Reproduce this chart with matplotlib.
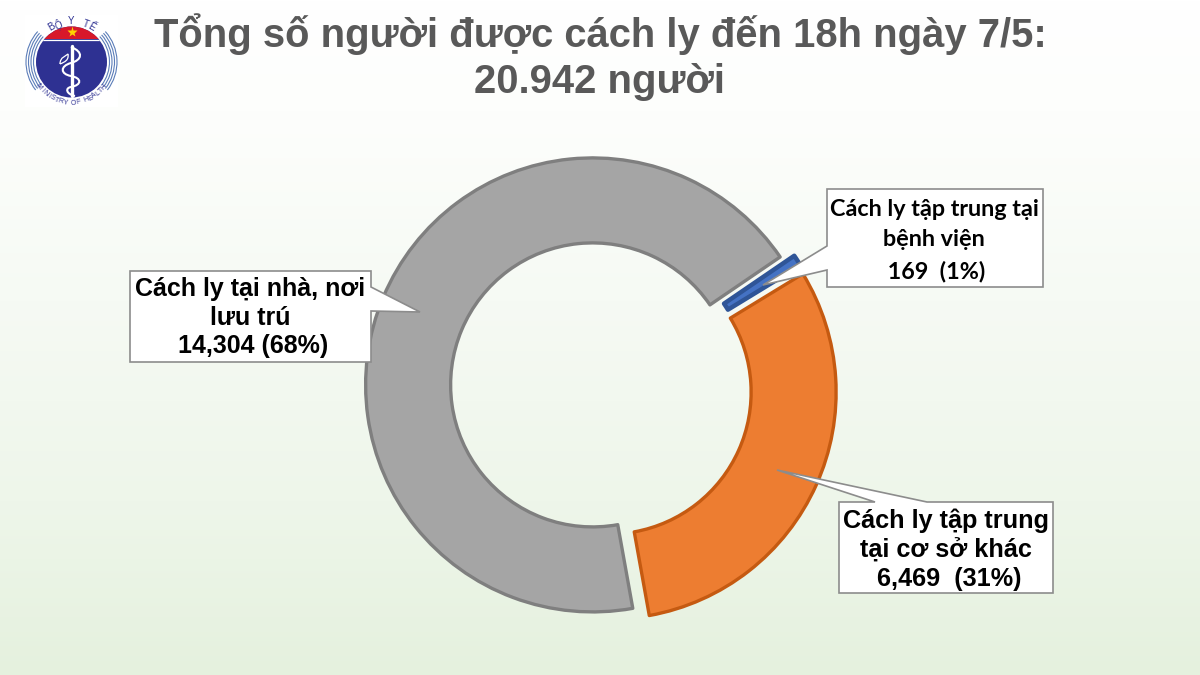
import numpy as np
import matplotlib
matplotlib.use("Agg")
from matplotlib import pyplot as plt
from matplotlib.path import Path
from matplotlib.patches import Polygon, Circle, Rectangle, Arc, PathPatch

W, H = 1200, 675

# data
values = [14304, 6469, 169]
fills = ["#A5A5A5", "#ED7D31", "#4472C4"]
edges = ["#7F7F7F", "#C55A11", "#2F5597"]
title_lines = ["Tổng số người được cách ly đến 18h ngày 7/5:", "20.942 người"]

home_lines = ["Cách ly tại nhà, nơi", "lưu trú", " 14,304 (68%)"]
other_lines = ["Cách ly tập trung", "tại cơ sở khác", " 6,469  (31%)"]
hosp_lines = ["Cách ly tập trung tại", "bệnh viện", " 169  (1%)"]

ARIAL = ["Liberation Sans", "DejaVu Sans"]
CALIBRI = ["Lato", "Noto Sans", "DejaVu Sans"]


def py(y):
    # picture pixels count from the top, the axes from the bottom
    return H - y


fig = plt.figure(figsize=(12, 6.75), dpi=100)
ax = fig.add_axes([0, 0, 1, 1])

# background, white going to pale green
stops_y = [0, 110, 300, 500, 675]
stops_r = [255, 253, 246, 238, 229]
stops_g = [255, 254, 250, 246, 241]
stops_b = [255, 252, 244, 234, 222]
yy = np.arange(H)
bg = np.stack([np.interp(yy, stops_y, s) for s in (stops_r, stops_g, stops_b)], axis=1) / 255
ax.imshow(bg[:, None, :], extent=[0, W, 0, H], origin="upper", aspect="auto", zorder=0)

# donut
wedges, _ = ax.pie(
    values,
    colors=fills,
    startangle=34.3,
    counterclock=True,
    center=(600, py(388)),
    radius=227,
    explode=[8, 10, 8],
    frame=True,
    wedgeprops=dict(width=85, linewidth=2.4, joinstyle="round"),
)
for w, e in zip(wedges, edges):
    w.set_edgecolor(e)
    w.set_zorder(2)
wedges[2].set_linewidth(3.2)

ax.set_xlim(0, W)
ax.set_ylim(0, H)
ax.set_aspect("auto")
ax.axis("off")


def callout(points, lines, ys, cx, size, family):
    pts = [(x, py(y)) for x, y in points]
    ax.add_patch(Polygon(pts, closed=True, fc="white", ec="#8C8C8C", lw=1.2, zorder=3))
    for t, y in zip(lines, ys):
        ax.text(cx, py(y), t, ha="center", va="center", fontsize=size, fontweight="bold",
                family=family, color="black", zorder=4)


callout([(130, 271), (371, 271), (371, 287), (420, 312), (371, 311), (371, 362), (130, 362)],
        home_lines, [289, 318, 346], 250, 18, ARIAL)
callout([(839, 502), (875, 502), (777, 470), (927, 502), (1053, 502), (1053, 593), (839, 593)],
        other_lines, [521, 550, 579], 946, 18.2, ARIAL)
callout([(827, 189), (1043, 189), (1043, 287), (827, 287), (827, 270), (763, 285), (827, 246)],
        hosp_lines, [209, 240, 271], 934, 16.8, CALIBRI)

# title
ax.text(600, py(34), title_lines[0], ha="center", va="center", fontsize=28.8, fontweight="bold",
        family=ARIAL, color="#595959", zorder=4)
ax.text(600, py(82), title_lines[1], ha="center", va="center", fontsize=28.8, fontweight="bold",
        family=ARIAL, color="#595959", zorder=4)

# logo
lx, ly = 71.5, py(62)
NAVY = "#2E3192"
ax.add_patch(Rectangle((25, py(107)), 93, 92, fc="white", ec="none", zorder=3))
disc = Circle((lx, ly), 35.5, fc=NAVY, ec="none", zorder=4)
ax.add_patch(disc)
red_cap = Rectangle((lx - 36, py(39)), 72, 14, fc="#D7182A", ec="none", zorder=5)
ax.add_patch(red_cap)
red_cap.set_clip_path(disc)
band = ax.plot([lx - 30, lx + 30], [py(39.5), py(39.5)], color="white", lw=0.9, zorder=6)[0]
band.set_clip_path(disc)
ax.plot([lx], [py(32)], marker="*", ms=8, color="#FFD500", mec="none", zorder=6)
for r in (38, 40.5, 43, 45.5):
    ax.add_patch(Arc((lx, ly), 2 * r, 2 * r, theta1=-38, theta2=42, color="#5B7DB8", lw=0.8, zorder=4))
    ax.add_patch(Arc((lx, ly), 2 * r, 2 * r, theta1=138, theta2=218, color="#5B7DB8", lw=0.8, zorder=4))
ax.plot([lx, lx], [py(46), py(96)], color="white", lw=2.4, solid_capstyle="round", zorder=6)

snake = [(71, 47), (84, 52), (82, 60), (71, 63), (60, 66), (60, 74), (71, 76),
         (82, 78), (82, 85), (71, 87), (65, 88), (66, 94), (75, 96)]
snake_codes = [Path.MOVETO] + [Path.CURVE4] * 12
ax.add_patch(PathPatch(Path([(x, py(y)) for x, y in snake], snake_codes),
                       fc="none", ec="white", lw=1.5, zorder=6))
leaf = [(60, 64), (60, 57), (66, 56), (68, 54), (69, 60), (65, 62), (60, 64)]
leaf_codes = [Path.MOVETO] + [Path.CURVE4] * 6
ax.add_patch(PathPatch(Path([(x, py(y)) for x, y in leaf], leaf_codes),
                       fc="none", ec="white", lw=0.9, zorder=6))


def ring_text(text, radius, mid_deg, step, size, flip):
    n = len(text)
    for i, ch in enumerate(text):
        off = (i - (n - 1) / 2) * step
        a = mid_deg + off if flip else mid_deg - off
        rot = a + 90 if flip else a - 90
        x = lx + radius * np.cos(np.radians(a))
        y = ly + radius * np.sin(np.radians(a))
        ax.text(x, y, ch, rotation=rot, rotation_mode="anchor", ha="center", va="center",
                fontsize=size, color=NAVY, family=ARIAL, zorder=6)


ring_text("BỘ Y TẾ", 40.5, 90, 10, 7, False)
ring_text("MINISTRY OF HEALTH", 41, 270, 6.2, 5, True)

fig.savefig("out.png", dpi=100)
